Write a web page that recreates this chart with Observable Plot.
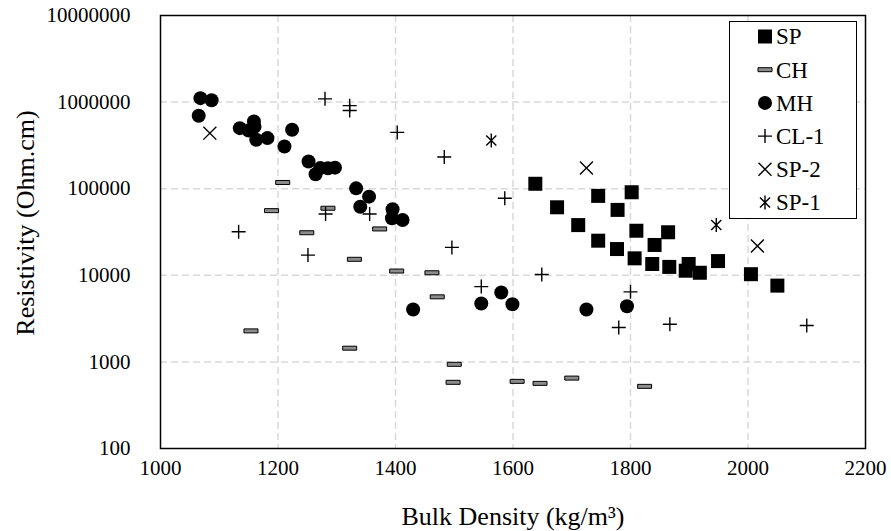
<!DOCTYPE html>
<html><head><meta charset="utf-8">
<script src="https://cdn.jsdelivr.net/npm/d3@7"></script>
<script src="https://cdn.jsdelivr.net/npm/@observablehq/plot@0.6"></script>
<style>
body{margin:0;background:#fff;}
#wrap{position:relative;width:891px;height:531px;font-family:"Liberation Serif","Times New Roman",serif;}
#legend{position:absolute;left:729px;top:21px;width:128px;height:198px;box-sizing:border-box;border:1.5px solid #000;background:#fff;}
</style></head><body><div id="wrap"></div>
<script>
// ---- data (bulk density kg/m3, resistivity Ohm.cm) ----
const spDensity = [1638,1675,1711,1745,1745,1778,1777,1802,1810,1807,1837,1841,1864,1866,1894,1899,1918,1949,2005,2050];
const spRes     = [114000,61000,38000,82600,25100,56900,20100,91000,32700,15700,13500,22400,31400,12500,11300,13500,10700,14600,10300,7600];

const chDensity = [1154,1189,1208,1249,1285,1322,1330,1373,1402,1462,1471,1498,1500,1607,1646,1700,1824];
const chRes     = [2280,55800,118000,31000,59500,1440,15300,34300,11200,10700,5640,581,938,596,565,650,522];

const mhDensity = [1068,1087,1065,1135,1159,1160,1150,1163,1182,1224,1211,1252,1264,1272,1285,1297,1333,1355,1340,1395,1394,1412,1430,1546,1580,1599,1725,1794];
const mhRes     = [1110000,1050000,697000,500000,598000,520000,470000,367000,384000,480000,307000,206000,147000,173000,172000,175000,101000,81000,62000,58000,45500,43500,4030,4730,6340,4640,4030,4400];

const clDensity = [1133,1251,1280,1322,1322,1281,1356,1403,1483,1496,1546,1586,1649,1800,1780,1867,2100];
const clRes     = [31800,17100,1090000,910000,800000,51000,51000,447000,232000,21000,7400,77600,10200,6440,2500,2720,2630];

const sp2Density = [1084,1725,2016];
const sp2Res     = [438000,173000,21800];

const sp1Density = [1563,1946];
const sp1Res     = [360000,38100];

const xTicks = [1000,1200,1400,1600,1800,2000,2200];
const yTicks = [100,1000,10000,100000,1000000,10000000];
const seriesNames = ["SP","CH","MH","CL-1","SP-2","SP-1"];

const toRows = (xs, ys) => xs.map((x,i) => ({x, y: ys[i]}));

// ---- custom marker symbols ----
const rad = s => Math.sqrt(s/Math.PI);
const squareSym = {draw(c,s){const r=rad(s); c.rect(-r,-r,2*r,2*r);}};
const barSym = {draw(c,s){const r=rad(s); c.rect(-r,-r*2/7,2*r,r*4/7);}};
const plusSym = {draw(c,s){const r=rad(s); c.moveTo(-r,0);c.lineTo(r,0);c.moveTo(0,-r);c.lineTo(0,r);}};
const timesSym = {draw(c,s){const r=rad(s)*0.72; c.moveTo(-r,-r);c.lineTo(r,r);c.moveTo(-r,r);c.lineTo(r,-r);}};
const starSym = {draw(c,s){const r=rad(s); const k=r*0.72; c.moveTo(-k,-k);c.lineTo(k,k);c.moveTo(-k,k);c.lineTo(k,-k);c.moveTo(0,-r);c.lineTo(0,r);}};
const circSym = {draw(c,s){const r=rad(s); c.moveTo(r,0); c.arc(0,0,r,0,2*Math.PI);}};

const FONT = "Liberation Serif, Times New Roman, serif";

const chart = Plot.plot({
  width: 891, height: 531,
  marginLeft: 160, marginRight: 26, marginTop: 15, marginBottom: 83,
  style: {fontFamily: FONT, fontSize: "21px", color: "#000", background: "#fff"},
  x: {domain: [1000, 2200]},
  y: {type: "log", domain: [100, 10000000]},
  marks: [
    Plot.gridX(xTicks.slice(1,-1), {stroke: "#d9d9d9", strokeOpacity: 1, strokeWidth: 1.5, strokeDasharray: "7,4"}),
    Plot.gridY(yTicks.slice(1,-1), {stroke: "#d9d9d9", strokeOpacity: 1, strokeWidth: 1.5, strokeDasharray: "7,4"}),
    Plot.axisX(xTicks, {tickSize: 0, tickPadding: 12, tickFormat: d => String(d), label: null, fontSize: 21}),
    Plot.axisY(yTicks, {tickSize: 0, tickPadding: 30, tickFormat: d => String(d), label: null, fontSize: 21}),
    Plot.frame({stroke: "#000", strokeWidth: 1.5}),
    Plot.dot(toRows(chDensity, chRes), {x: "x", y: "y", symbol: barSym, r: 7, fill: "#8c8c8c", stroke: "#000", strokeWidth: 1}),
    Plot.dot(toRows(clDensity, clRes), {x: "x", y: "y", symbol: plusSym, r: 7, fill: "none", stroke: "#000", strokeWidth: 1.4}),
    Plot.dot(toRows(sp2Density, sp2Res), {x: "x", y: "y", symbol: timesSym, r: 9, fill: "none", stroke: "#000", strokeWidth: 1.4}),
    Plot.dot(toRows(sp1Density, sp1Res), {x: "x", y: "y", symbol: starSym, r: 7, fill: "none", stroke: "#000", strokeWidth: 1.4}),
    Plot.dot(toRows(mhDensity, mhRes), {x: "x", y: "y", symbol: circSym, r: 7, fill: "#000", stroke: "none"}),
    Plot.dot(toRows(spDensity, spRes), {x: "x", y: "y", symbol: squareSym, r: 7, fill: "#000", stroke: "none"}),
    Plot.text(["Bulk Density (kg/m³)"], {frameAnchor: "bottom", dy: 68, fontSize: 26, textAnchor: "middle", lineAnchor: "middle", fill: "#000"}),
    Plot.text(["Resistivity (Ohm.cm)"], {frameAnchor: "left", dx: -135, dy: -9, rotate: -90, fontSize: 26, textAnchor: "middle", lineAnchor: "middle", fill: "#000"})
  ]
});

const wrap = document.getElementById("wrap");
wrap.appendChild(chart);

// ---- legend ----
const legendSyms = [
  {sym: squareSym, r: 7, fill: "#000", stroke: "none", sw: 0},
  {sym: barSym, r: 7, fill: "#8c8c8c", stroke: "#000", sw: 1},
  {sym: circSym, r: 7, fill: "#000", stroke: "none", sw: 0},
  {sym: plusSym, r: 7, fill: "none", stroke: "#000", sw: 1.4},
  {sym: timesSym, r: 9, fill: "none", stroke: "#000", sw: 1.4},
  {sym: starSym, r: 7, fill: "none", stroke: "#000", sw: 1.4}
];
const leg = document.createElement("div");
leg.id = "legend";
const ns = "http://www.w3.org/2000/svg";
const lsvg = document.createElementNS(ns, "svg");
lsvg.setAttribute("width", 125); lsvg.setAttribute("height", 195);
lsvg.style.display = "block";
seriesNames.forEach((name, i) => {
  const cy = 14.5 + 33.2 * i;
  const s = legendSyms[i];
  const p = document.createElementNS(ns, "path");
  p.setAttribute("d", d3.symbol(s.sym, Math.PI * s.r * s.r)());
  p.setAttribute("transform", `translate(35,${cy})`);
  p.setAttribute("fill", s.fill); p.setAttribute("stroke", s.stroke); p.setAttribute("stroke-width", s.sw);
  lsvg.appendChild(p);
  const t = document.createElementNS(ns, "text");
  t.setAttribute("x", 46); t.setAttribute("y", cy); t.setAttribute("dy", "0.34em");
  t.setAttribute("font-family", FONT); t.setAttribute("font-size", 23);
  t.textContent = name;
  lsvg.appendChild(t);
});
leg.appendChild(lsvg);
wrap.appendChild(leg);
</script></body></html>
